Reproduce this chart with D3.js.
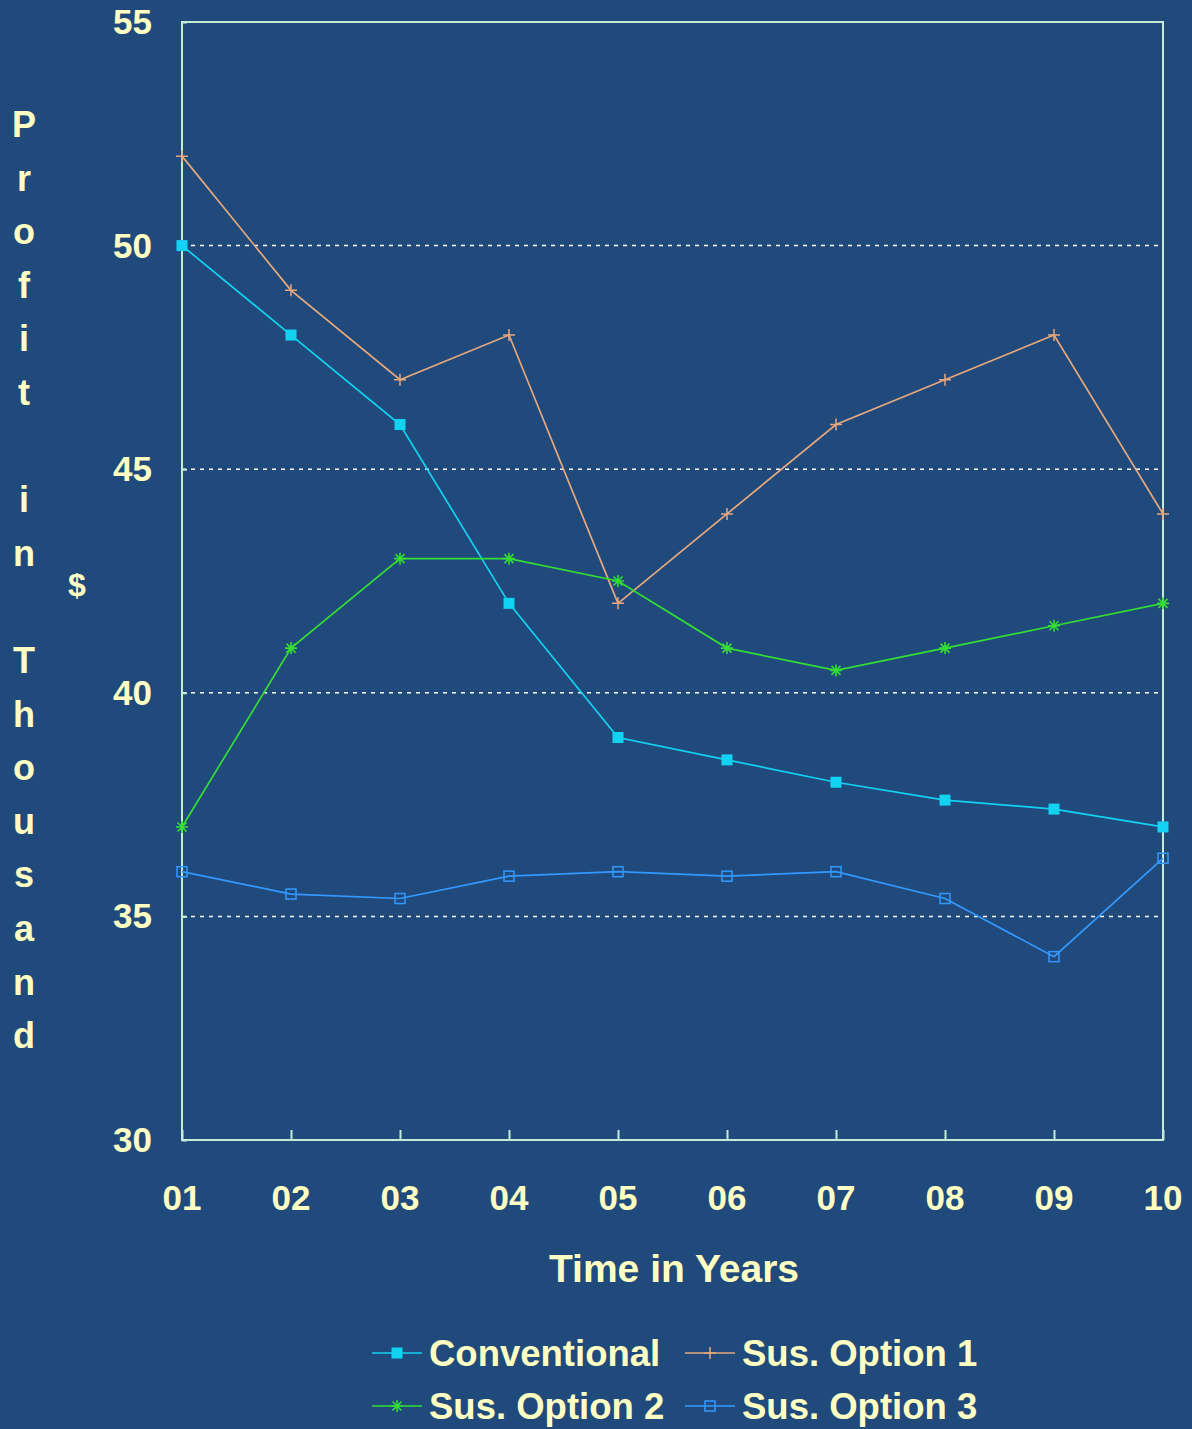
<!DOCTYPE html>
<html>
<head>
<meta charset="utf-8">
<script src="https://cdn.jsdelivr.net/npm/d3@7"></script>
<style>
  html, body { margin: 0; padding: 0; background: #214a7c; }
  svg { display: block; }
</style>
</head>
<body>
<div id="chart"></div>
<script>
// Profit per year, thousand $
const years = ['01', '02', '03', '04', '05', '06', '07', '08', '09', '10'];
const conventional = [50, 48, 46, 42, 39, 38.5, 38, 37.6, 37.4, 37];
const susOption1   = [52, 49, 47, 48, 42, 44, 46, 47, 48, 44];
const susOption2   = [37, 41, 43, 43, 42.5, 41, 40.5, 41, 41.5, 42];
const susOption3   = [36, 35.5, 35.4, 35.9, 36, 35.9, 36, 35.4, 34.1, 36.3];
const yTicks = [30, 35, 40, 45, 50, 55];
const gridTicks = [35, 40, 45, 50];
const yLabel = 'Profit in Thousand';

const series = [
  { name: 'Conventional',  values: conventional, color: '#12d2f2', marker: 'filledSquare' },
  { name: 'Sus. Option 1', values: susOption1,   color: '#e6a87c', marker: 'plus' },
  { name: 'Sus. Option 2', values: susOption2,   color: '#33dd33', marker: 'star' },
  { name: 'Sus. Option 3', values: susOption3,   color: '#3399ff', marker: 'openSquare' },
];

const TEXT = '#ffffc4';
const FRAME = '#c4ecd8';
const W = 1192, H = 1429;
const plot = { left: 182, right: 1163, top: 22, bottom: 1140 };

const svg = d3.select('#chart').append('svg')
  .attr('width', W).attr('height', H)
  .style('font-family', 'Arial, "Liberation Sans", sans-serif')
  .style('font-weight', 'bold');

svg.append('rect').attr('width', W).attr('height', H).attr('fill', '#214a7c');

const x = d3.scalePoint().domain(years).range([plot.left, plot.right]);
const y = d3.scaleLinear().domain([30, 55]).range([plot.bottom, plot.top]);

// Gridlines
svg.append('g').selectAll('line')
  .data(gridTicks).enter().append('line')
  .attr('x1', plot.left).attr('x2', plot.right)
  .attr('y1', d => y(d)).attr('y2', d => y(d))
  .attr('stroke', '#ffffff').attr('stroke-width', 1.5)
  .attr('stroke-dasharray', '4,5');

// Frame
svg.append('rect')
  .attr('x', plot.left).attr('y', plot.top)
  .attr('width', plot.right - plot.left).attr('height', plot.bottom - plot.top)
  .attr('fill', 'none').attr('stroke', FRAME).attr('stroke-width', 2);

// Axes (inward ticks)
const xAxis = svg.append('g')
  .attr('transform', `translate(0,${plot.bottom})`)
  .call(d3.axisTop(x).tickSize(10).tickPadding(0).tickFormat(''));
xAxis.select('.domain').remove();
xAxis.selectAll('line').attr('stroke', FRAME).attr('stroke-width', 2);

const yAxis = svg.append('g')
  .attr('transform', `translate(${plot.left},0)`)
  .call(d3.axisRight(y).tickValues(yTicks).tickSize(5).tickFormat(''));
yAxis.select('.domain').remove();
yAxis.selectAll('line').attr('stroke', FRAME).attr('stroke-width', 2);

// Tick labels
svg.append('g').selectAll('text')
  .data(yTicks).enter().append('text')
  .attr('x', 152).attr('y', d => y(d) + 12)
  .attr('text-anchor', 'end')
  .attr('font-size', 35).attr('fill', TEXT)
  .text(d => d);

svg.append('g').selectAll('text')
  .data(years).enter().append('text')
  .attr('x', d => x(d)).attr('y', 1210)
  .attr('text-anchor', 'middle')
  .attr('font-size', 35).attr('fill', TEXT)
  .text(d => d);

// Axis titles
svg.append('text')
  .attr('x', 674).attr('y', 1282)
  .attr('text-anchor', 'middle')
  .attr('font-size', 39).attr('fill', TEXT)
  .text('Time in Years');

const letters = yLabel.split('');
svg.append('g').selectAll('text')
  .data(letters).enter().append('text')
  .attr('x', 24).attr('y', (d, i) => 137 + i * 53.6)
  .attr('text-anchor', 'middle')
  .attr('font-size', 36).attr('fill', TEXT)
  .text(d => d);

svg.append('text')
  .attr('x', 77).attr('y', 596)
  .attr('text-anchor', 'middle')
  .attr('font-size', 32).attr('fill', TEXT)
  .text('$');

// Markers
function drawMarker(g, type, color, cx, cy) {
  if (type === 'filledSquare') {
    g.append('rect').attr('x', cx - 5.5).attr('y', cy - 5.5).attr('width', 11).attr('height', 11)
      .attr('fill', color);
  } else if (type === 'openSquare') {
    g.append('rect').attr('x', cx - 5).attr('y', cy - 5).attr('width', 10).attr('height', 10)
      .attr('fill', 'none').attr('stroke', color).attr('stroke-width', 1.5);
  } else if (type === 'plus') {
    g.append('path').attr('d', `M${cx - 6},${cy}H${cx + 6}M${cx},${cy - 6}V${cy + 6}`)
      .attr('stroke', color).attr('stroke-width', 1.5);
  } else if (type === 'star') {
    g.append('path')
      .attr('d', `M${cx - 6},${cy}H${cx + 6}M${cx},${cy - 6}V${cy + 6}M${cx - 4.5},${cy - 4.5}L${cx + 4.5},${cy + 4.5}M${cx - 4.5},${cy + 4.5}L${cx + 4.5},${cy - 4.5}`)
      .attr('stroke', color).attr('stroke-width', 1.6);
  }
}

const line = d3.line().x((d, i) => x(years[i])).y(d => y(d));

series.forEach(s => {
  const g = svg.append('g');
  g.append('path').datum(s.values).attr('d', line)
    .attr('fill', 'none').attr('stroke', s.color).attr('stroke-width', 1.7);
  s.values.forEach((v, i) => drawMarker(g, s.marker, s.color, x(years[i]), y(v)));
});

// Legend
const legendPos = [
  { lx: 372, ty: 1366 }, { lx: 685, ty: 1366 },
  { lx: 372, ty: 1419 }, { lx: 685, ty: 1419 },
];
series.forEach((s, i) => {
  const p = legendPos[i];
  const g = svg.append('g');
  const ly = p.ty - 13;
  g.append('line').attr('x1', p.lx).attr('x2', p.lx + 50).attr('y1', ly).attr('y2', ly)
    .attr('stroke', s.color).attr('stroke-width', 1.7);
  drawMarker(g, s.marker, s.color, p.lx + 25, ly);
  g.append('text').attr('x', p.lx + 57).attr('y', p.ty)
    .attr('font-size', 36.5).attr('fill', TEXT)
    .text(s.name);
});
</script>
</body>
</html>
